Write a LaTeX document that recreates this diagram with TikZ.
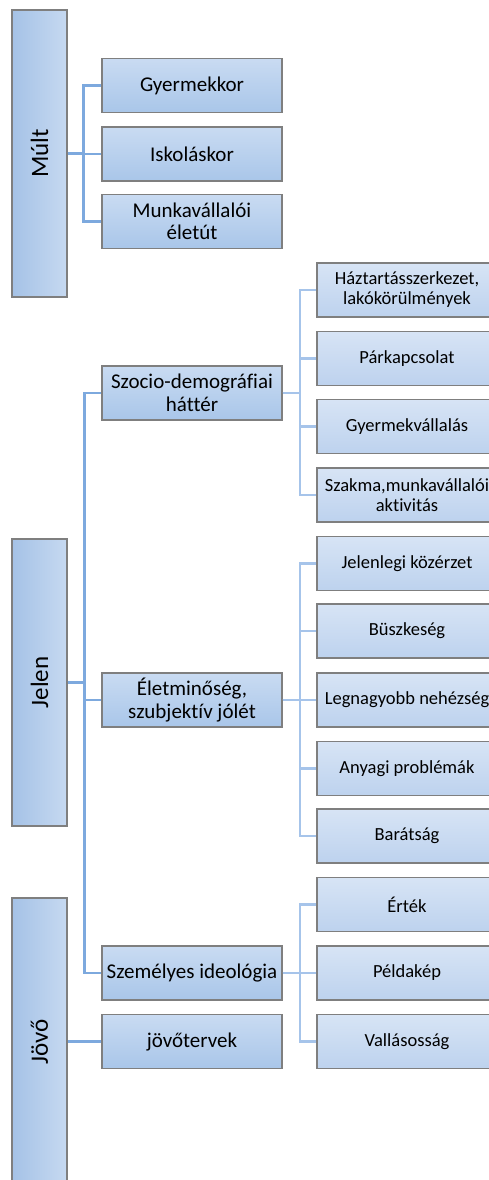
\documentclass[tikz,border=0pt]{standalone}
\usepackage{fontspec}
\setmainfont{Carlito}[Ligatures={NoCommon}]
\definecolor{cphtop}{HTML}{C6D9F1}
\definecolor{cphbot}{HTML}{A5C2E6}
\definecolor{ctptop}{HTML}{C9DBF2}
\definecolor{ctpbot}{HTML}{A9C6E9}
\definecolor{cittop}{HTML}{D7E4F5}
\definecolor{citbot}{HTML}{BDD2EE}
\definecolor{cedge}{HTML}{7F7F7F}
\definecolor{clink}{HTML}{7DA9DE}
\definecolor{csub}{HTML}{A6C4EA}

\begin{document}
\begin{tikzpicture}[
  x=1pt, y=-1pt,
  phase/.style={draw=cedge, line width=1.1pt, rotate=90, right color=cphtop, left color=cphbot,
                minimum width=287pt, minimum height=55pt, inner sep=0pt,
                font=\fontsize{25}{27}\selectfont},
  topic/.style={draw=cedge, line width=1.1pt, top color=ctptop, bottom color=ctpbot,
                minimum width=180pt, minimum height=54pt, inner sep=1pt, align=center,
                font=\fontsize{21}{22.5}\selectfont},
  item/.style={draw=cedge, line width=1.1pt, top color=cittop, bottom color=citbot,
               minimum width=180pt, minimum height=54pt, inner sep=1pt, align=center,
               font=\fontsize{18.5}{20}\selectfont},
  link/.style={draw=clink, line width=2.6pt},
  sublink/.style={draw=csub, line width=2.6pt},
]
\useasboundingbox (0,0) rectangle (488,1180);

% ------------------------------------------------------------------ phases
\node[phase] (mult)  at (39.5,153.5)  {Múlt};
\node[phase] (jelen) at (39.5,682.5)  {Jelen};
\node[phase] (jovo)  at (39.5,1041.5) {Jövő};

% ------------------------------------------------------------------ topics
\node[topic] (gyer) at (192,85.5)  {Gyermekkor};
\node[topic] (isk)  at (192,154)   {Iskoláskor};
\node[topic] (munk) at (192,221.5) {Munkavállalói\\életút};
\node[topic] (szoc) at (192,393)   {Szocio-demográfiai\\háttér};
\node[topic] (elet) at (192,700)   {Életminőség,\\szubjektív jólét};
\node[topic] (szem) at (192,973)   {Személyes ideológia};
\node[topic] (terv) at (192,1041.5) {jövőtervek};

% ------------------------------------------------------------------ items
\node[item] (haz)  at (407,290)   {Háztartásszerkezet,\\lakókörülmények};
\node[item] (par)  at (407,358.5) {Párkapcsolat};
\node[item] (gyv)  at (407,426.5) {Gyermekvállalás};
\node[item] (szak) at (407,495)   {Szakma,munkavállalói\\aktivitás};
\node[item] (koz)  at (407,563.5) {Jelenlegi közérzet};
\node[item] (busz) at (407,631)   {Büszkeség};
\node[item] (neh)  at (407,700)   {Legnagyobb nehézség};
\node[item] (any)  at (407,768.5) {Anyagi problémák};
\node[item] (bar)  at (407,836)   {Barátság};
\node[item] (ert)  at (407,904.5) {Érték};
\node[item] (pel)  at (407,973)   {Példakép};
\node[item] (val)  at (407,1041.5) {Vallásosság};

% ------------------------------------------------------------------ connectors
\foreach \c in {gyer,isk,munk} \draw[link] (mult.south) -- ++(16,0) |- (\c.west);
\foreach \c in {szoc,elet,szem} \draw[link] (jelen.south) -- ++(17,0) |- (\c.west);
\draw[link] (jovo.south) -- (terv.west);
\foreach \c in {haz,par,gyv,szak} \draw[sublink] (szoc.east) -- ++(17.5,0) |- (\c.west);
\foreach \c in {koz,busz,neh,any,bar} \draw[sublink] (elet.east) -- ++(17.5,0) |- (\c.west);
\foreach \c in {ert,pel,val} \draw[sublink] (szem.east) -- ++(17.5,0) |- (\c.west);
\end{tikzpicture}
\end{document}
